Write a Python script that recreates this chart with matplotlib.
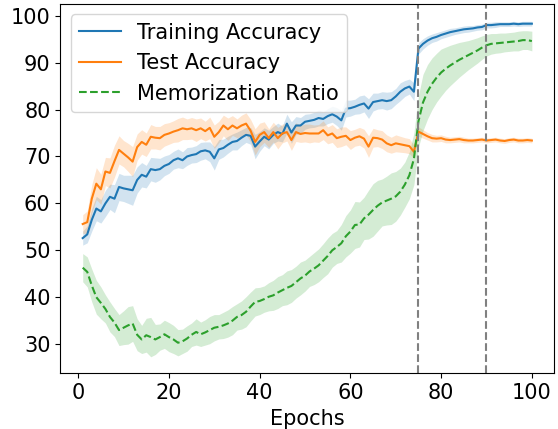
import matplotlib
matplotlib.use('Agg')
import matplotlib.pyplot as plt
import numpy as np

# Epochs 1..100
epochs = list(range(1, 101))

# Mean training accuracy per epoch
train_acc = [
    52.6, 53.4, 56.5, 58.9, 58.3, 60.0, 61.4, 61.0, 63.5, 63.2,
    63.0, 62.8, 65.0, 66.1, 65.7, 67.3, 67.1, 67.3, 68.0, 68.4,
    69.2, 69.6, 69.2, 70.0, 70.3, 70.5, 71.1, 71.3, 71.0, 69.6,
    71.5, 71.8, 72.5, 73.1, 73.3, 74.0, 74.6, 74.4, 72.1, 73.2,
    74.2, 73.6, 74.6, 75.2, 74.8, 77.0, 75.1, 76.6, 76.6, 77.4,
    77.6, 77.8, 78.2, 78.0, 78.6, 79.0, 78.5, 77.7, 80.2, 80.3,
    80.6, 81.0, 81.3, 80.2, 81.6, 81.8, 82.0, 81.8, 82.0, 82.8,
    83.8, 84.5, 84.9, 83.8, 93.0, 94.0, 94.7, 95.2, 95.5, 95.9,
    96.2, 96.5, 96.7, 96.9, 97.1, 97.2, 97.3, 97.5, 97.6, 98.0,
    98.0, 98.1, 98.2, 98.2, 98.2, 98.3, 98.2, 98.3, 98.3, 98.3,
]
train_std = [
    1.5, 1.8, 2.4, 2.6, 2.5, 2.8, 2.7, 3.0, 2.9, 2.8,
    3.0, 3.2, 2.8, 2.6, 2.4, 2.5, 2.6, 2.3, 2.1, 2.0,
    1.9, 2.0, 1.8, 1.9, 1.7, 1.8, 1.9, 1.8, 2.1, 2.5,
    2.1, 1.9, 1.8, 1.7, 1.9, 1.7, 1.6, 1.8, 2.6, 2.1,
    1.9, 2.0, 1.8, 1.9, 1.7, 2.0, 2.3, 1.9, 1.7, 1.6,
    1.5, 1.6, 1.7, 1.5, 1.6, 1.7, 1.9, 2.1, 1.8, 1.7,
    1.6, 1.9, 1.8, 2.1, 1.9, 1.7, 1.8, 1.9, 1.8, 1.7,
    1.9, 1.7, 1.6, 1.9, 1.2, 1.1, 1.0, 0.9, 0.9, 0.8,
    0.8, 0.8, 0.7, 0.7, 0.7, 0.7, 0.6, 0.6, 0.6, 0.6,
    0.6, 0.6, 0.5, 0.5, 0.5, 0.5, 0.5, 0.5, 0.5, 0.5,
]

# Mean test accuracy per epoch
test_acc = [
    55.6, 56.0, 61.0, 64.2, 63.0, 66.8, 66.5, 69.0, 71.4, 70.6,
    69.8, 68.9, 72.0, 73.1, 72.5, 74.2, 74.0, 73.9, 74.6, 74.9,
    75.3, 75.6, 76.0, 75.8, 76.0, 75.6, 76.0, 75.4, 76.1, 74.2,
    75.2, 76.6, 75.8, 76.6, 76.0, 76.6, 77.0, 75.5, 73.1, 74.6,
    75.2, 73.9, 75.2, 73.9, 74.9, 75.2, 73.5, 75.2, 74.8, 75.0,
    74.9, 74.9, 74.9, 75.6, 74.5, 74.9, 73.9, 74.2, 74.4, 73.5,
    74.0, 74.3, 73.8, 72.1, 74.0, 73.9, 73.6, 72.8, 72.4, 72.8,
    72.6, 72.4, 72.2, 71.0, 75.3, 74.8, 74.3, 73.9, 73.8, 73.9,
    73.6, 73.5, 73.6, 73.7, 73.5, 73.4, 73.4, 73.5, 73.6, 73.4,
    73.5, 73.6, 73.4, 73.3, 73.5, 73.6, 73.4, 73.4, 73.5, 73.4,
]
test_std = [
    2.0, 2.4, 3.0, 3.4, 3.2, 3.0, 3.2, 3.4, 3.0, 2.8,
    3.0, 3.2, 2.8, 2.6, 2.5, 2.6, 2.4, 2.5, 2.4, 2.3,
    2.3, 2.5, 2.4, 2.2, 2.3, 2.4, 2.2, 2.1, 2.3, 2.5,
    2.3, 2.2, 2.4, 2.1, 2.0, 2.2, 2.3, 2.4, 2.8, 2.5,
    2.2, 2.0, 2.1, 2.3, 2.0, 1.9, 2.2, 2.0, 1.8, 1.9,
    2.0, 1.8, 1.9, 2.0, 1.8, 1.9, 2.0, 2.1, 1.9, 2.0,
    1.8, 1.9, 2.0, 2.3, 2.0, 1.8, 1.9, 1.8, 1.7, 1.8,
    1.7, 1.6, 1.6, 1.4, 1.0, 0.9, 0.8, 0.8, 0.7, 0.7,
    0.7, 0.6, 0.6, 0.6, 0.6, 0.5, 0.5, 0.5, 0.5, 0.5,
    0.5, 0.5, 0.5, 0.5, 0.5, 0.5, 0.5, 0.5, 0.5, 0.5,
]

# Mean memorization ratio per epoch
mem_ratio = [
    46.3, 45.4, 42.5, 40.0, 38.8, 37.5, 35.8, 34.6, 33.0, 33.5,
    34.0, 34.4, 32.0, 31.0, 31.9, 31.5, 31.0, 31.5, 32.1, 31.5,
    31.0, 30.3, 30.6, 31.2, 32.0, 32.6, 32.1, 32.5, 33.0, 33.5,
    33.7, 34.0, 34.4, 35.0, 35.8, 36.2, 36.9, 38.0, 39.0, 39.2,
    39.6, 40.1, 40.4, 41.0, 41.5, 42.0, 42.4, 43.2, 44.0, 44.6,
    45.5, 46.1, 46.8, 47.8, 48.8, 50.0, 50.7, 51.5, 53.0, 54.0,
    55.4, 55.5, 56.8, 57.6, 58.6, 59.5, 60.2, 60.6, 61.0, 61.5,
    62.5, 64.0, 66.0, 69.5, 77.5, 81.5, 83.8, 85.5, 86.8, 87.9,
    88.7, 89.4, 90.0, 90.6, 91.1, 91.6, 92.1, 92.6, 93.2, 93.7,
    94.0, 94.1, 94.2, 94.3, 94.4, 94.5, 94.6, 94.8, 94.8, 94.6,
]
mem_std = [
    3.0, 3.2, 3.5, 3.6, 3.4, 3.0, 3.2, 3.0, 3.3, 3.6,
    4.0, 3.8, 3.4, 3.0, 3.6, 4.2, 3.2, 2.8, 3.0, 3.1,
    3.0, 2.8, 2.6, 2.7, 2.5, 2.8, 2.6, 2.7, 2.9, 2.8,
    2.6, 2.8, 2.9, 3.0, 2.8, 3.0, 3.2, 3.1, 3.0, 2.9,
    2.8, 3.0, 3.2, 3.4, 3.3, 3.6, 3.5, 3.4, 3.5, 3.3,
    3.2, 3.4, 3.5, 3.6, 3.8, 3.6, 3.5, 4.0, 4.4, 4.6,
    5.0, 4.8, 4.5, 5.2, 5.6, 5.4, 5.0, 5.2, 5.5, 5.3,
    5.0, 4.8, 5.0, 5.5, 5.5, 6.0, 5.8, 5.5, 5.2, 5.0,
    4.6, 4.3, 4.0, 3.7, 3.4, 3.1, 2.9, 2.7, 2.5, 2.3,
    2.2, 2.1, 2.1, 2.0, 2.0, 2.0, 2.1, 2.0, 2.0, 2.1,
]

# Phase boundaries (vertical markers)
phase_epochs = [75, 90]

fig = plt.figure(figsize=(5.58, 4.29), dpi=100)
ax = fig.add_axes([0.108, 0.13, 0.8854, 0.8607])

series = [
    (train_acc, train_std, 'tab:blue', '-', 'Training Accuracy'),
    (test_acc, test_std, 'tab:orange', '-', 'Test Accuracy'),
    (mem_ratio, mem_std, 'tab:green', '--', 'Memorization Ratio'),
]
x = np.array(epochs)
for mean, std, color, ls, label in series:
    mean = np.array(mean)
    std = np.array(std)
    ax.plot(x, mean, color=color, linestyle=ls, linewidth=1.5, label=label)
    ax.fill_between(x, mean - std, mean + std, color=color, alpha=0.2, linewidth=0)

for ep in phase_epochs:
    ax.axvline(x=ep, color='gray', linestyle='--', linewidth=1.5)

ax.set_xlim(-3.95, 104.95)
ax.set_ylim(23.8, 102.5)
ax.set_xticks([0, 20, 40, 60, 80, 100])
ax.set_yticks([30, 40, 50, 60, 70, 80, 90, 100])
ax.tick_params(labelsize=15)
ax.set_xlabel('Epochs', fontsize=15)
ax.legend(loc='upper left', fontsize=15)

fig.savefig('out.png', dpi=100)
plt.close(fig)
